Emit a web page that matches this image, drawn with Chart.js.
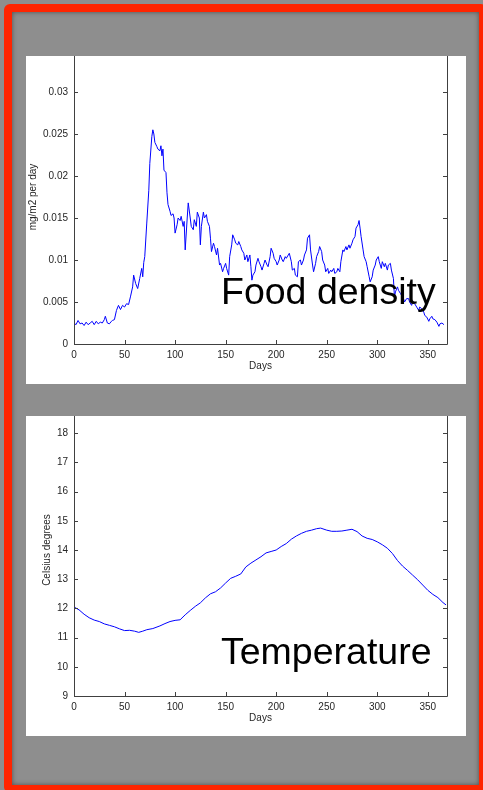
<!DOCTYPE html>
<html>
<head>
<meta charset="utf-8">
<title>Food density and temperature</title>
<script src="https://cdn.jsdelivr.net/npm/chart.js@4.4.1/dist/chart.umd.min.js"></script>
<style>
  html, body {
    margin: 0;
    padding: 0;
    width: 483px;
    height: 790px;
    overflow: hidden;
    background: #8e8e8e;
  }
  .frame {
    position: absolute;
    left: 4px;
    top: 4px;
    width: 467px;
    height: 773px;
    border: 8px solid #ff2400;
    border-radius: 6px;
    background: #8e8e8e;
    box-shadow: inset 0 0 5px rgba(0, 0, 0, 0.45);
  }
  .panel {
    position: absolute;
    left: 26px;
    width: 440px;
    background: #fff;
    overflow: hidden;
  }
  .panel canvas {
    position: absolute;
    left: 0;
  }
  .panel-food { top: 56px; height: 328px; }
  .panel-food canvas { top: -7px; }
  .panel-temp { top: 416px; height: 320px; }
  .panel-temp canvas { top: -13px; }
</style>
</head>
<body>
<div class="frame"></div>
<div class="panel panel-food"><canvas id="food-chart" width="440" height="335"></canvas></div>
<div class="panel panel-temp"><canvas id="temp-chart" width="440" height="333"></canvas></div>

<script>
// Data

const foodDays = [
  0, 2, 4, 6, 8, 10, 12, 14, 16, 18, 20, 22, 24, 26, 28, 30, 31, 33, 35, 37, 38, 40,
  42, 44, 46, 48, 50, 52, 54, 56, 58, 59, 61, 63, 65, 67, 68, 69, 70, 72, 74, 75, 77,
  78, 79, 80, 82, 83, 85, 86, 87, 88, 89, 91, 92, 93, 95, 96, 98, 99, 100, 102, 103,
  105, 106, 108, 109, 110, 112, 113, 115, 116, 118, 119, 121, 122, 124, 125, 126, 128,
  129, 131, 132, 134, 135, 136, 138, 139, 141, 142, 144, 145, 147, 148, 150, 151, 153,
  154, 156, 157, 159, 160, 162, 163, 165, 166, 168, 169, 171, 172, 174, 175, 176, 177,
  179, 180, 182, 183, 185, 186, 188, 189, 191, 192, 194, 195, 197, 198, 200, 201, 203,
  204, 206, 207, 209, 210, 212, 213, 215, 216, 218, 219, 221, 222, 224, 225, 227, 228,
  230, 231, 233, 234, 236, 237, 239, 240, 242, 243, 245, 246, 248, 249, 251, 252, 254,
  255, 257, 258, 260, 261, 263, 264, 266, 267, 269, 270, 272, 273, 275, 276, 278, 279,
  281, 282, 283, 284, 286, 287, 289, 290, 292, 293, 295, 296, 298, 299, 301, 302, 304,
  305, 307, 308, 310, 311, 313, 314, 316, 317, 318, 320, 321, 323, 324, 326, 327, 329,
  331, 332, 334, 335, 337, 339, 341, 342, 344, 346, 347, 349, 351, 352, 354, 355, 357,
  359, 361, 362, 364, 366
];

const foodValues = [
  0.0025, 0.0023, 0.0028, 0.0024, 0.0025, 0.0022, 0.0026, 0.0023, 0.0025, 0.0027, 0.0023,
  0.0027, 0.0024, 0.0026, 0.0025, 0.0029, 0.0033, 0.0025, 0.0024, 0.0027, 0.0028, 0.0029,
  0.0040, 0.0046, 0.0041, 0.0046, 0.0044, 0.0048, 0.0047, 0.0057, 0.0068, 0.0082, 0.0072,
  0.0066, 0.0078, 0.0090, 0.0080, 0.0097, 0.0104, 0.0144, 0.0183, 0.0215, 0.0247,
  0.0255, 0.0250, 0.0240, 0.0235, 0.0232, 0.0230, 0.0236, 0.0224, 0.0232, 0.0207, 0.0204,
  0.0180, 0.0166, 0.0158, 0.0153, 0.0155, 0.0150, 0.0132, 0.0142, 0.0150,
  0.0147, 0.0152, 0.0140, 0.0146, 0.0112, 0.0150, 0.0168, 0.0150, 0.0140, 0.0136, 0.0148,
  0.0140, 0.0157, 0.0150, 0.0118, 0.0140, 0.0157,
  0.0150, 0.0154, 0.0146, 0.0140, 0.0126, 0.0110, 0.0120, 0.0116, 0.0106, 0.0114, 0.0094,
  0.0096, 0.0086, 0.0090, 0.0096, 0.0090, 0.0082,
  0.0104, 0.0118, 0.0130, 0.0124, 0.0120, 0.0118, 0.0122, 0.0116, 0.0112, 0.0108, 0.0100,
  0.0106, 0.0098, 0.0106, 0.0092, 0.0076, 0.0082,
  0.0086, 0.0094, 0.0102, 0.0098, 0.0092, 0.0088, 0.0096, 0.0100, 0.0094, 0.0092, 0.0104,
  0.0114, 0.0108, 0.0102, 0.0098, 0.0094, 0.0100,
  0.0106, 0.0100, 0.0098, 0.0104, 0.0102, 0.0106, 0.0108, 0.0098, 0.0088, 0.0090, 0.0082,
  0.0080, 0.0098, 0.0100, 0.0094, 0.0100, 0.0106,
  0.0112, 0.0126, 0.0130, 0.0112, 0.0094, 0.0086, 0.0096, 0.0104, 0.0110, 0.0116, 0.0110,
  0.0100, 0.0094, 0.0086, 0.0090, 0.0084, 0.0088,
  0.0086, 0.0090, 0.0084, 0.0086, 0.0090, 0.0086, 0.0098, 0.0112, 0.0110, 0.0116, 0.0112,
  0.0118, 0.0114, 0.0120, 0.0124, 0.0128, 0.0138,
  0.0142, 0.0147, 0.0138, 0.0128, 0.0112, 0.0104, 0.0098, 0.0092, 0.0080, 0.0074, 0.0080,
  0.0088, 0.0094, 0.0100, 0.0104, 0.0098, 0.0090,
  0.0098, 0.0092, 0.0096, 0.0088, 0.0094, 0.0096, 0.0088, 0.0078, 0.0056, 0.0062, 0.0068,
  0.0064, 0.0060, 0.0058, 0.0054, 0.0050, 0.0054,
  0.0054, 0.0050, 0.0046, 0.0050, 0.0048, 0.0044, 0.0040, 0.0044, 0.0042, 0.0038, 0.0034,
  0.0032, 0.0027, 0.0030, 0.0033, 0.0030, 0.0029,
  0.0026, 0.0021, 0.0024, 0.0025, 0.0023
];

const tempDays = [
  0, 5, 10, 15, 20, 25, 30, 35, 40, 45, 50, 55, 60, 64, 68, 72, 78, 85, 90, 95, 100,
  105, 110, 115, 120, 125, 130, 135, 140, 145, 150, 155, 160, 165, 170, 175, 180, 185,
  190, 195, 200, 205, 210, 215, 220, 225, 230, 235, 240, 244, 250, 255, 260, 265, 270,
  275, 280, 285, 290, 295, 300, 305, 310, 315, 320, 325, 330, 335, 340, 345, 350, 355,
  360, 365, 368
];

const tempValues = [
  12.05, 11.95, 11.80, 11.68, 11.60, 11.55, 11.47, 11.42, 11.37, 11.30, 11.24, 11.25,
  11.22, 11.18, 11.22, 11.27, 11.31, 11.40, 11.48, 11.55, 11.59, 11.61, 11.78, 11.93,
  12.07, 12.19, 12.36, 12.50, 12.57, 12.70, 12.87, 13.03, 13.10, 13.18, 13.42, 13.55,
  13.66, 13.77, 13.90, 13.95, 14.00, 14.12, 14.22, 14.37, 14.48, 14.57, 14.64, 14.68,
  14.73, 14.75, 14.68, 14.64, 14.64, 14.65, 14.68, 14.71, 14.63, 14.48, 14.40, 14.36,
  14.28, 14.18, 14.06, 13.88, 13.64, 13.45, 13.30, 13.14, 12.98, 12.80, 12.62, 12.48,
  12.37, 12.20, 12.12
];

const dayTicks = [0, 50, 100, 150, 200, 250, 300, 350];

// End Data

const fontFamily = "'Liberation Sans', Arial, Helvetica, sans-serif";
const axisFont = { family: fontFamily, size: 10 };
const textColor = "#262626";
const axisColor = "#404040";

// matlab style box: inward ticks on all four sides, label drawn over the line
const matlabBox = {
  id: "matlabBox",
  afterDatasetsDraw(chart) {
    const { ctx, chartArea, scales } = chart;
    const { left, right, top, bottom } = chartArea;
    const tickLen = 4;
    ctx.save();
    ctx.strokeStyle = axisColor;
    ctx.lineWidth = 1;
    ctx.beginPath();
    ctx.moveTo(left + 0.5, top);
    ctx.lineTo(left + 0.5, bottom + 0.5);
    ctx.lineTo(right + 0.5, bottom + 0.5);
    ctx.lineTo(right + 0.5, top);
    ctx.lineTo(left + 0.5, top + 0.5);
    scales.x.ticks.forEach((tick) => {
      const px = Math.round(scales.x.getPixelForValue(tick.value)) + 0.5;
      ctx.moveTo(px, bottom);
      ctx.lineTo(px, bottom - tickLen);
      ctx.moveTo(px, top);
      ctx.lineTo(px, top + tickLen);
    });
    scales.y.ticks.forEach((tick) => {
      const py = Math.round(scales.y.getPixelForValue(tick.value)) + 0.5;
      ctx.moveTo(left, py);
      ctx.lineTo(left + tickLen, py);
      ctx.moveTo(right, py);
      ctx.lineTo(right - tickLen, py);
    });
    ctx.stroke();

    const label = chart.options.plugins.matlabBox;
    if (label && label.text) {
      ctx.fillStyle = "#000";
      ctx.font = `37.5px ${fontFamily}`;
      ctx.textBaseline = "alphabetic";
      ctx.textAlign = "left";
      ctx.fillText(label.text, label.x, label.y);
    }
    ctx.restore();
  },
};

const makeChart = (element, days, values, yOptions, yTitle, label) => {
  return new Chart(element, {
    type: "line",
    data: {
      datasets: [
        {
          data: days.map((day, i) => ({ x: day, y: values[i] })),
          borderColor: "#0000ff",
          borderWidth: 1,
          pointRadius: 0,
          tension: 0,
          fill: false,
        },
      ],
    },
    options: {
      responsive: false,
      animation: false,
      devicePixelRatio: 1,
      layout: {
        padding: { top: 1, right: 19, left: 0, bottom: 0 },
      },
      plugins: {
        legend: { display: false },
        tooltip: { enabled: false },
        matlabBox: label,
      },
      scales: {
        x: {
          type: "linear",
          min: 0,
          max: 369,
          grid: { display: false, drawTicks: false },
          border: { display: false },
          ticks: {
            color: textColor,
            font: axisFont,
            padding: 5,
            maxRotation: 0,
          },
          afterBuildTicks: (scale) => {
            scale.ticks = dayTicks.map((value) => ({ value }));
          },
          afterFit: (scale) => {
            scale.height = 40;
            scale.paddingLeft = 0;
            scale.paddingRight = 0;
          },
          title: {
            display: true,
            text: "Days",
            color: textColor,
            font: axisFont,
            padding: { top: 0, bottom: 12 },
          },
        },
        y: {
          min: yOptions.min,
          max: yOptions.max,
          grid: { display: false, drawTicks: false },
          border: { display: false },
          ticks: {
            color: textColor,
            font: axisFont,
            padding: 6,
            callback: (value) => (value >= yOptions.max ? "" : yOptions.format(value)),
          },
          afterBuildTicks: (scale) => {
            scale.ticks = yOptions.ticks.map((value) => ({ value }));
          },
          afterFit: (scale) => {
            scale.width = 48;
            scale.paddingTop = 0;
            scale.paddingBottom = 0;
          },
          title: {
            display: true,
            text: yTitle,
            color: textColor,
            font: axisFont,
            padding: yOptions.titlePadding,
          },
        },
      },
    },
    plugins: [matlabBox],
  });
};

// Food density chart
const foodChartElement = document.querySelector("#food-chart");
if (foodChartElement) {
  makeChart(
    foodChartElement,
    foodDays,
    foodValues,
    {
      min: 0,
      max: 0.035,
      ticks: [0, 0.005, 0.01, 0.015, 0.02, 0.025, 0.03, 0.035],
      format: (value) => String(Number(value.toFixed(3))),
      titlePadding: { top: 1, bottom: 0 },
    },
    "mg/m2 per day",
    { text: "Food density", x: 195, y: 255 }
  );
}
// End Food density chart

// Temperature chart
const tempChartElement = document.querySelector("#temp-chart");
if (tempChartElement) {
  makeChart(
    tempChartElement,
    tempDays,
    tempValues,
    {
      min: 9,
      max: 19,
      ticks: [9, 10, 11, 12, 13, 14, 15, 16, 17, 18, 19],
      format: (value) => String(value),
      titlePadding: { top: 15, bottom: 0 },
    },
    "Celsius degrees",
    { text: "Temperature", x: 195, y: 261 }
  );
}
// End Temperature chart
</script>
</body>
</html>
